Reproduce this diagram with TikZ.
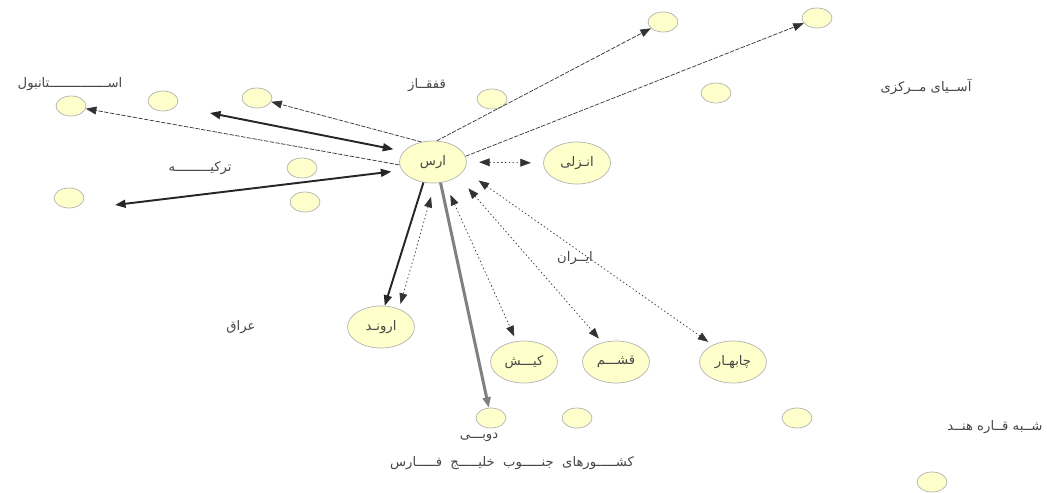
\documentclass[tikz,border=0pt]{standalone}
\usepackage{fontspec}
\newfontfamily\farsifont[Script=Arabic]{DejaVu Sans}
\TeXXeTstate=1
\usetikzlibrary{shapes.geometric,arrows.meta}
\definecolor{nodefill}{HTML}{FFFFCC}
\newcommand{\fatext}[1]{\farsifont\beginR #1\endR}

\begin{document}
\begin{tikzpicture}[
        x=0.02cm, y=-0.02cm,
        >={Triangle[length=6pt,width=4.5pt]},
        every node/.style={font=\fontsize{7.5}{9}\selectfont, text=gray!55!black},
        dot/.style={draw=gray!60, fill=nodefill, ellipse, minimum width=0.6cm, minimum height=0.4cm, inner sep=0pt},
        port/.style={draw=gray!60, fill=nodefill, ellipse, minimum width=1.34cm, minimum height=0.84cm, inner sep=0pt},
        faint/.style={->, draw=gray!40!black, thin, dash pattern=on 2.5pt off 0.8pt},
        heavy/.style={draw=black!85, line width=1.1pt},
        greyheavy/.style={draw=gray, line width=1.7pt},
        dots/.style={<->, draw=gray!40!black, thin, dash pattern=on 0.8pt off 1.4pt}
      ]
      \useasboundingbox (0,0) rectangle (1047,493);

      % ports
      \node[port] (ars) at (433,162) {\fatext{ارس}};
      \node[port] (anz) at (577,163) {\fatext{انـزلی}};
      \node[port] (arw) at (381,327) {\fatext{ارونـد}};
      \node[port] (kish) at (524,362) {\fatext{کیـــش}};
      \node[port] (qsh) at (616,362) {\fatext{قشـــم}};
      \node[port] (chb) at (733,362) {\fatext{چابهـار}};

      % small places
      \node[dot] (istDot) at (71,106) {};
      \node[dot] (trA) at (163,101) {};
      \node[dot] (trB) at (257,98) {};
      \node[dot] (qfq) at (492,99) {};
      \node[dot] (asiaA) at (716,93) {};
      \node[dot] (asiaB) at (663,22) {};
      \node[dot] (asiaC) at (817,18) {};
      \node[dot] (trC) at (302,168) {};
      \node[dot] (trD) at (305,202) {};
      \node[dot] (trE) at (69,198) {};
      \node[dot] (dubai) at (491,418) {};
      \node[dot] (gulfA) at (577,418) {};
      \node[dot] (gulfB) at (797,418) {};
      \node[dot] (india) at (932,482) {};

      % region names
      \node (istLbl) at (70,84) {\fatext{اســـــــــــــــتانبول}};
      \node (qfqLbl) at (427,85) {\fatext{قفقــاز}};
      \node (asiaLbl) at (926,87) {\fatext{آســیای مــرکزی}};
      \node (trLbl) at (200,168) {\fatext{ترکیـــــــــه}};
      \node (iranLbl) at (575,258) {\fatext{ایــران}};
      \node (iraqLbl) at (241,327) {\fatext{عراق}};
      \node (dubaiLbl) at (479,437) {\fatext{دوبـــی}};
      \node (gulfLbl) at (512,463) {\fatext{کشـــــورهای\ \ جنـــــوب\ \ خلیـــــج\ \ فـــــارس}};
      \node (indiaLbl) at (995,427) {\fatext{شــبه قــاره هنــد}};

      \coordinate (tkA) at (210,113);
      \coordinate (tkB) at (115,205);

      \draw[faint] (ars.185) -- (istDot);
      \draw[faint] (ars.120) -- (trB);
      \draw[faint] (ars.80) -- (asiaB);
      \draw[faint] (ars.10) -- (asiaC);
      \draw[heavy, <->, shorten <=6pt] (ars.160) -- (tkA);
      \draw[heavy, <->, shorten <=6pt] (ars.195) -- (tkB);
      \draw[dots, shorten <=7pt, shorten >=7pt] (ars.east) -- (anz.west);
      \draw[heavy, ->] (ars.245) -- (arw.80);
      \draw[dots, shorten <=8pt, shorten >=3pt] (ars.275) -- (arw.45);
      \draw[greyheavy, ->] (ars.290) -- (dubai);
      \draw[dots, shorten <=8pt, shorten >=3pt] (ars.300) -- (kish.110);
      \draw[dots, shorten <=9pt, shorten >=3pt] (ars.330) -- (qsh.125);
      \draw[dots, shorten <=10pt, shorten >=3pt] (ars.345) -- (chb.140);

\end{tikzpicture}
\end{document}
